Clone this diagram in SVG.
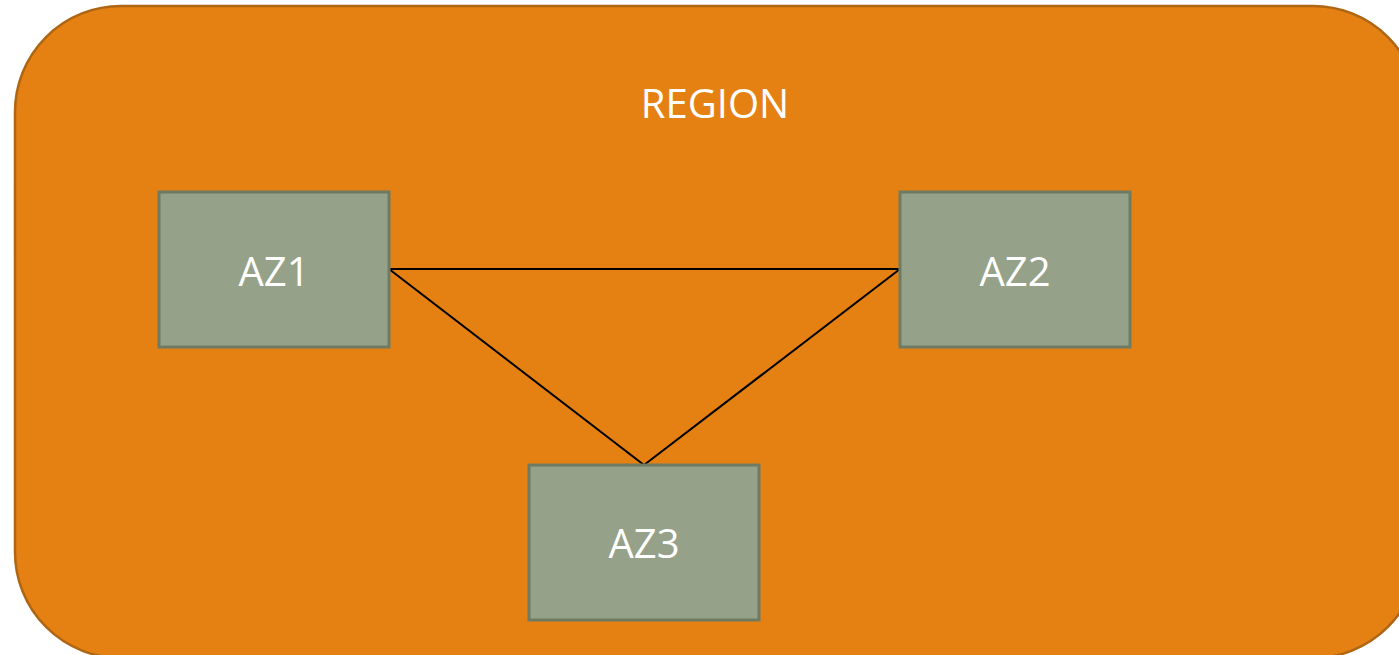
<svg xmlns="http://www.w3.org/2000/svg" width="1399" height="655" viewBox="0 0 1399 655">
<style>
.az rect{fill:#95a188;stroke:#6e7a62;stroke-width:3}
.lbl{font-family:"Open Sans","Liberation Sans",sans-serif;font-size:40px;fill:#ffffff;text-anchor:middle}
.conn line{stroke:#000000;stroke-width:2}
</style>
<rect width="1399" height="655" fill="#ffffff"/>
<g id="region">
<rect x="15" y="6" width="1404" height="652" rx="106" ry="106" fill="#e48112" stroke="#ae6614" stroke-width="2.5"/>
<text class="lbl" x="715" y="118">REGION</text>
</g>
<g id="connectors" class="conn">
<line x1="389" y1="269" x2="900" y2="269"/>
<line x1="389" y1="269" x2="644" y2="465"/>
<line x1="900" y1="269" x2="644" y2="465"/>
</g>
<g id="az1" class="az">
<rect x="159" y="192" width="230" height="155"/>
<text class="lbl" x="274" y="286">AZ1</text>
</g>
<g id="az2" class="az">
<rect x="900" y="192" width="230" height="155"/>
<text class="lbl" x="1015" y="286">AZ2</text>
</g>
<g id="az3" class="az">
<rect x="529" y="465" width="230" height="155"/>
<text class="lbl" x="644" y="558">AZ3</text>
</g>
</svg>
